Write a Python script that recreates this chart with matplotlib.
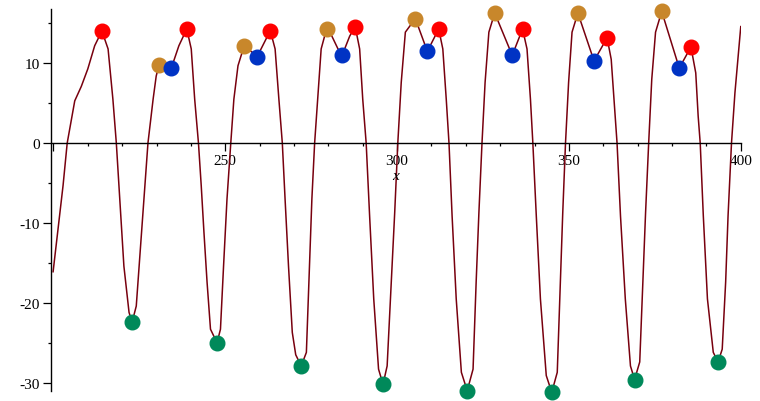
import matplotlib
matplotlib.use("Agg")
import matplotlib.pyplot as plt

# curve (x, y)
curve_x = [199.9, 202.8, 204.0, 206.2, 208.1, 210.0, 212.0, 214.1, 215.9, 217.3,
           218.3, 219.3, 220.5, 222.0, 222.9, 224.1, 225.5, 227.5, 229.0, 229.9,
           230.7, 234.3, 236.5, 238.8, 240.1, 241.1, 242.2, 243.0, 243.8, 244.7,
           245.7, 247.6, 248.6, 249.5, 250.5, 251.6, 252.5, 253.7, 255.5, 259.3,
           263.1, 264.5, 265.6, 266.6, 267.4, 268.4, 269.5, 270.5, 272.1, 273.6,
           274.5, 275.2, 276.0, 277.0, 277.9, 279.5, 280.8, 282.8, 284.1, 286.2,
           287.8, 289.1, 290.0, 291.0, 292.0, 293.2, 294.6, 295.9, 297.1, 298.3,
           299.3, 300.2, 301.2, 302.4, 305.3, 308.8, 312.1, 313.3, 314.3, 315.1,
           316.0, 317.2, 318.7, 320.4, 322.1, 323.0, 323.8, 324.7, 325.6, 326.7,
           328.4, 333.5, 336.5, 337.8, 338.8, 339.5, 340.5, 341.7, 343.4, 345.0,
           346.6, 347.5, 348.2, 349.0, 349.9, 350.9, 352.6, 357.3, 361.1, 362.3,
           363.3, 364.0, 365.0, 366.4, 367.9, 369.1, 370.6, 371.5, 372.3, 373.2,
           374.1, 375.2, 377.0, 382.1, 385.5, 386.9, 387.6, 388.2, 389.1, 390.3,
           392.0, 393.4, 394.6, 395.6, 396.3, 397.3, 398.3, 400.0]
curve_y = [-16.1, -5.3, 0.0, 5.3, 7.1, 9.3, 12.2, 14.05, 11.8, 5.5,
           0.0, -7.0, -15.4, -21.2, -22.4, -20.4, -12.0, 0.0, 5.5, 8.4,
           9.76, 9.4, 12.2, 14.3, 11.8, 5.5, 0.0, -5.3, -11.2, -17.4,
           -23.3, -25.0, -23.3, -15.4, -7.0, 0.0, 5.5, 9.7, 12.2, 10.85,
           14.1, 11.8, 5.5, 0.0, -7.0, -15.4, -23.7, -26.5, -27.9, -26.2,
           -15.4, -7.0, 0.0, 6.3, 11.8, 14.35, 13.6, 11.8, 11.1, 13.4,
           14.6, 11.8, 5.5, 0.0, -9.1, -19.5, -28.3, -30.2, -27.9, -17.4,
           -8.7, 0.0, 7.6, 13.9, 15.6, 11.5, 14.3, 11.8, 5.5, 0.0,
           -9.1, -19.5, -28.7, -31.0, -28.3, -17.4, -8.7, 0.0, 7.6, 13.9,
           16.3, 11.0, 14.3, 11.8, 5.5, 0.0, -9.1, -19.5, -29.1, -31.2,
           -28.7, -17.4, -8.7, 0.0, 7.6, 13.9, 16.3, 10.3, 13.2, 10.5,
           4.3, 0.0, -9.1, -19.5, -27.9, -29.6, -27.4, -17.4, -8.7, 0.0,
           8.0, 13.9, 16.5, 9.4, 12.05, 8.8, 3.4, 0.0, -9.1, -19.5,
           -26.2, -27.4, -25.8, -17.4, -9.1, 0.0, 6.3, 14.6]

# marked points
red_x = [214.1, 238.8, 263.1, 287.8, 312.1, 336.5, 361.1, 385.5]
red_y = [14.05, 14.3, 14.1, 14.6, 14.3, 14.3, 13.2, 12.05]
gold_x = [230.7, 255.5, 279.5, 305.3, 328.4, 352.6, 377.0]
gold_y = [9.76, 12.2, 14.35, 15.6, 16.3, 16.3, 16.5]
blue_x = [234.3, 259.3, 284.1, 308.8, 333.5, 357.3, 382.1]
blue_y = [9.4, 10.85, 11.1, 11.5, 11.0, 10.3, 9.4]
green_x = [222.9, 247.6, 272.1, 295.9, 320.4, 345.0, 369.1, 393.4]
green_y = [-22.4, -25.0, -27.9, -30.2, -31.0, -31.2, -29.6, -27.4]

xticks = [200, 250, 300, 350, 400]
xtick_labels = ["", "250", "300", "350", "400"]
yticks = [-30, -20, -10, 0, 10]
ytick_labels = ["-30", "-20", "-10", "0", "10"]

plt.rcParams["font.family"] = ["Liberation Serif", "DejaVu Serif"]

fig = plt.figure(figsize=(7.6, 4.02), dpi=100)
ax = fig.add_axes([0.0667, 0.0256, 0.908, 0.9495])

ax.plot(curve_x, curve_y, color="#78000E", lw=1.1, zorder=2)
ms = 10.5
ax.plot(red_x, red_y, "o", color="#FF0000", ms=ms, zorder=3, clip_on=False)
ax.plot(gold_x, gold_y, "o", color="#C8872B", ms=ms, zorder=3, clip_on=False)
ax.plot(blue_x, blue_y, "o", color="#0033C4", ms=ms, zorder=3, clip_on=False)
ax.plot(green_x, green_y, "o", color="#00895A", ms=ms, zorder=3, clip_on=False)

ax.set_xlim(199.2, 400)
ax.set_ylim(-31.0, 16.8)

ax.spines["top"].set_visible(False)
ax.spines["right"].set_visible(False)
ax.spines["bottom"].set_position(("data", 0))
ax.spines["left"].set_linewidth(1.0)
ax.spines["bottom"].set_linewidth(1.0)

ax.set_xticks(xticks)
ax.set_xticklabels(xtick_labels)
ax.set_xticks(range(210, 400, 10), minor=True)
ax.set_yticks(yticks)
ax.set_yticklabels(ytick_labels)
ax.set_yticks([-25, -15, -5, 5, 15], minor=True)

ax.tick_params(axis="both", which="major", direction="out", length=5.5,
               width=0.9, labelsize=11, pad=2.5)
ax.tick_params(axis="both", which="minor", direction="out", length=2.5, width=0.9)

ax.text(299.5, -4.1, "x", style="italic", fontsize=11, ha="center", va="center")

fig.savefig("out.png", dpi=100)
